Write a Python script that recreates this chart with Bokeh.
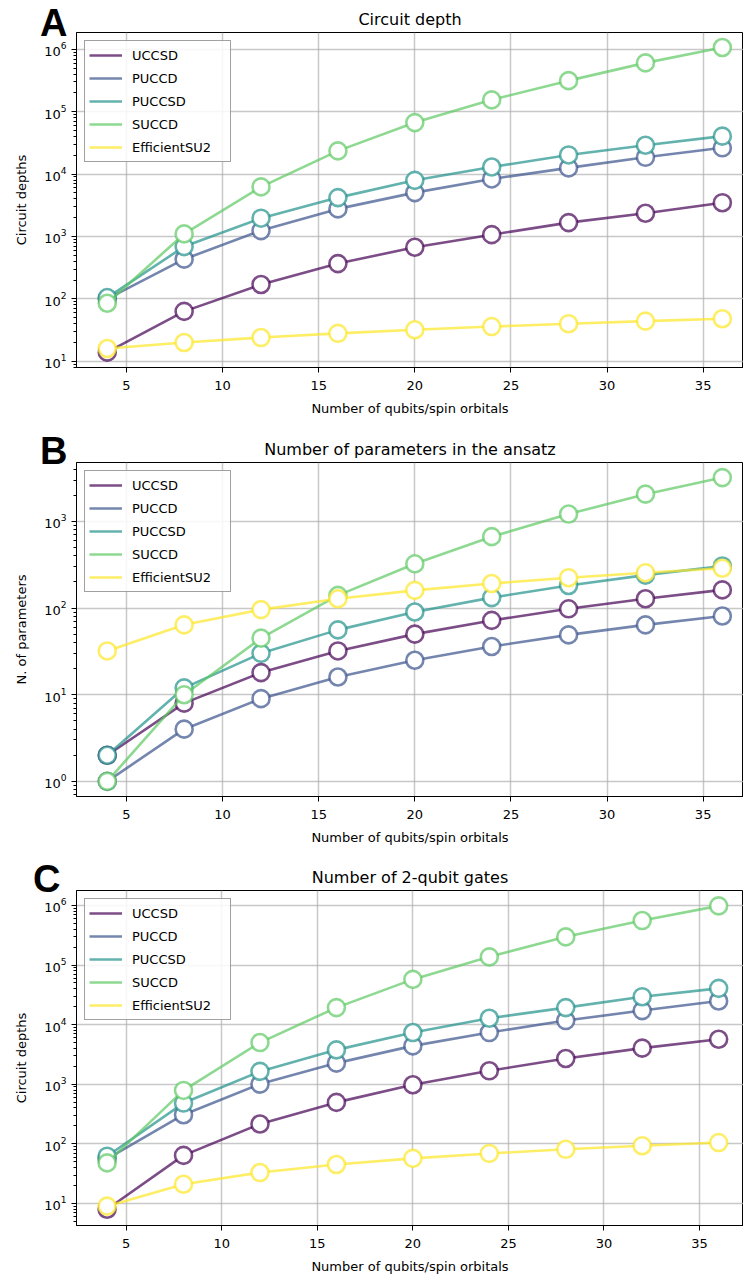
from bokeh.plotting import figure
from bokeh.layouts import column
from bokeh.models import Legend, LegendItem, Range1d, FixedTicker, Div
from bokeh.embed import file_html
from bokeh.resources import INLINE

# ---------------- data ----------------
qubits = [4, 8, 12, 16, 20, 24, 28, 32, 36]
ansatz_names = ["UCCSD", "PUCCD", "PUCCSD", "SUCCD", "EfficientSU2"]
x_ticks = [5, 10, 15, 20, 25, 30, 35]

# A: circuit depth
depth_uccsd = [14, 63, 170, 368, 673, 1070, 1670, 2360, 3480]
depth_puccd = [100, 433, 1244, 2770, 5050, 8370, 12600, 18600, 26400]
depth_puccsd = [105, 689, 1965, 4200, 7950, 13000, 20300, 29000, 40600]
depth_succd = [85, 1100, 6240, 23600, 67000, 155000, 315000, 607000, 1070000]
depth_esu2 = [16, 20, 24, 28, 32, 36, 40, 44, 48]

# B: number of parameters in the ansatz
params_uccsd = [2, 8, 18, 32, 50, 72, 98, 128, 162]
params_puccd = [1, 4, 9, 16, 25, 36, 49, 64, 81]
params_puccsd = [2, 12, 30, 56, 90, 132, 182, 240, 306]
params_succd = [1, 10, 45, 140, 324, 667, 1216, 2064, 3205]
params_esu2 = [32, 64, 96, 128, 160, 192, 224, 256, 288]

# C: number of 2-qubit gates
gates_uccsd = [8, 64, 215, 496, 980, 1680, 2700, 4030, 5690]
gates_puccd = [56, 308, 1005, 2260, 4400, 7360, 11700, 17200, 24900]
gates_puccsd = [62, 483, 1640, 3770, 7360, 12800, 19300, 29400, 40600]
gates_succd = [48, 787, 5000, 19300, 57400, 137000, 297000, 557000, 982000]
gates_esu2 = [9, 21, 33, 45, 57, 69, 81, 93, 105]

# ---------------- style ----------------
colors = ["#440154", "#3b528b", "#21918c", "#5ec962", "#fde725"]
FONT = "DejaVu Sans"
W = 743

panels = [
    dict(letter="A", title="Circuit depth", ylabel="Circuit depths",
         series=[depth_uccsd, depth_puccd, depth_puccsd, depth_succd, depth_esu2],
         y=(10 ** 0.9, 10 ** 6.27), x=(2.4, 37.1), height=428, top=32, bottom=61, left=76,
         lleft=40, ltop=4),
    dict(letter="B", title="Number of parameters in the ansatz", ylabel="N. of parameters",
         series=[params_uccsd, params_puccd, params_puccsd, params_succd, params_esu2],
         y=(10 ** -0.175, 10 ** 3.68), x=(2.4, 37.1), height=428, top=34, bottom=60, left=76,
         lleft=40, ltop=4),
    dict(letter="C", title="Number of 2-qubit gates", ylabel="Circuit depths",
         series=[gates_uccsd, gates_puccd, gates_puccsd, gates_succd, gates_esu2],
         y=(10 ** 0.63, 10 ** 6.25), x=(2.4, 37.3), height=421, top=34, bottom=52, left=72,
         lleft=33, ltop=4),
]

children = []
for pnl in panels:
    p = figure(width=W, height=pnl["height"], y_axis_type="log",
               x_range=Range1d(*pnl["x"]), y_range=Range1d(*pnl["y"]),
               output_backend="svg", toolbar_location=None,
               min_border_left=pnl["left"], min_border_right=0,
               min_border_top=pnl["top"], min_border_bottom=pnl["bottom"],
               title=pnl["title"])
    p.title.align = "center"
    p.title.text_font = FONT
    p.title.text_font_size = "16px"
    p.title.text_font_style = "normal"
    p.title.text_color = "#000000"
    p.title.standoff = 8

    p.outline_line_color = "#000000"
    p.outline_line_alpha = 1
    for ax in (p.xaxis[0], p.yaxis[0]):
        ax.axis_line_color = "#000000"
        ax.major_tick_line_color = "#000000"
        ax.major_tick_out = 5
        ax.major_tick_in = 0
        ax.major_label_text_font = FONT
        ax.major_label_text_font_size = "13px"
        ax.major_label_text_color = "#000000"
        ax.axis_label_text_font = FONT
        ax.axis_label_text_font_size = "13px"
        ax.axis_label_text_font_style = "normal"
        ax.axis_label_text_color = "#000000"
    p.xaxis.ticker = FixedTicker(ticks=x_ticks)
    p.xaxis.minor_tick_line_color = None
    p.xaxis.major_label_standoff = 8
    p.xaxis.axis_label = "Number of qubits/spin orbitals"
    p.xaxis.axis_label_standoff = 8
    p.yaxis.minor_tick_line_color = "#000000"
    p.yaxis.minor_tick_out = 3
    p.yaxis.minor_tick_in = 0
    p.yaxis.major_label_standoff = 5
    p.yaxis.axis_label = pnl["ylabel"]
    p.yaxis.axis_label_standoff = 12
    p.grid.grid_line_color = "#b0b0b0"
    p.grid.grid_line_alpha = 0.7
    p.grid.grid_line_width = 1.5

    items = []
    for name, col, vals in zip(ansatz_names, colors, pnl["series"]):
        r = p.line(qubits, vals, line_color=col, line_alpha=0.7, line_width=2.6)
        p.scatter(qubits, vals, marker="circle", size=17, fill_color="white", fill_alpha=1,
                  line_color=col, line_alpha=0.7, line_width=2.6)
        items.append(LegendItem(label=name, renderers=[r]))

    leg = Legend(items=items, location="top_left")
    leg.label_text_font = FONT
    leg.label_text_font_size = "13px"
    leg.label_text_color = "#000000"
    leg.glyph_width = 33
    leg.glyph_height = 20
    leg.label_height = 20
    leg.label_width = 94
    leg.label_standoff = 10
    leg.spacing = 3
    leg.padding = 4
    leg.margin = 8
    leg.border_line_color = "#444444"
    leg.border_line_width = 1
    leg.background_fill_alpha = 0.85
    p.add_layout(leg)

    # panel letter (bold, top-left, outside the plot frame)
    letter = Div(text=pnl["letter"], width=60, height=0, margin=0,
                 styles={"position": "relative", "z-index": "5", "overflow": "visible",
                         "left": "%dpx" % pnl["lleft"], "top": "%dpx" % pnl["ltop"],
                         "font-family": "Liberation Sans, Arial, sans-serif",
                         "font-weight": "bold", "font-size": "38px",
                         "line-height": "1", "color": "#000000"})
    children.append(letter)
    children.append(p)

layout = column(*children, spacing=0)
open("out.html", "w").write(file_html(layout, INLINE))
